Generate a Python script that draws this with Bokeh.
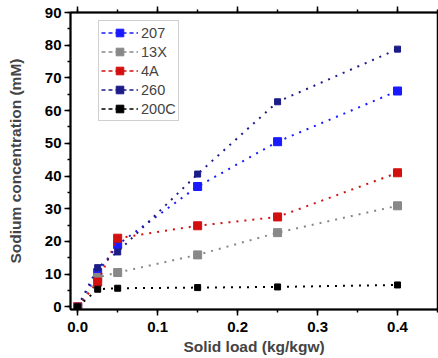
from bokeh.plotting import figure
from bokeh.models import (LinearAxis, SingleIntervalTicker, Range1d, Legend, LegendItem,
                          NumeralTickFormatter)
from bokeh.embed import file_html
from bokeh.resources import INLINE

# Solid load (kg/kgw)
load = [0.0, 0.025, 0.05, 0.15, 0.25, 0.4]

# Sodium concentration (mM) for each zeolite
na_207 = [0.0, 10.5, 19.0, 36.8, 50.5, 66.0]
na_13x = [0.0, 9.0, 10.5, 15.9, 22.7, 30.9]
na_4a = [0.0, 7.6, 21.0, 24.8, 27.5, 41.0]
na_260 = [0.0, 12.0, 16.8, 40.6, 62.7, 78.8]
na_200c = [0.0, 5.4, 5.7, 5.9, 6.1, 6.7]

# name, values, colour, marker size in plot, marker size in legend
series = [
    ("207", na_207, "#1a1aff", 8, 7),
    ("13X", na_13x, "#888888", 8, 7),
    ("4A", na_4a, "#d40f0f", 8, 7),
    ("260", na_260, "#1c1c88", 6, 5),
    ("200C", na_200c, "#000000", 6, 5),
]

FONT = "Liberation Sans"
NAN = float("nan")

p = figure(width=438, height=358, output_backend="svg", toolbar_location=None,
           x_range=Range1d(-0.009, 0.45), y_range=Range1d(-0.8, 90),
           min_border_left=70, min_border_right=1, min_border_top=12,
           min_border_bottom=49, background_fill_color="white",
           border_fill_color="white")
p.grid.visible = False
p.outline_line_color = "black"
p.outline_line_width = 1.5


def style_axis(ax):
    ax.axis_line_width = 2
    ax.axis_line_color = "black"
    ax.major_tick_in = 0
    ax.major_tick_out = 6
    ax.minor_tick_in = 0
    ax.minor_tick_out = 3
    ax.major_tick_line_width = 1.5
    ax.minor_tick_line_width = 1.5
    ax.major_label_text_font = FONT
    ax.major_label_text_font_style = "bold"
    ax.major_label_text_font_size = "15px"
    ax.major_label_text_color = "black"
    ax.axis_label_text_font = FONT
    ax.axis_label_text_font_style = "bold"
    ax.axis_label_text_font_size = "15.5px"


p.xaxis.ticker = SingleIntervalTicker(interval=0.1, num_minor_ticks=2)
p.yaxis.ticker = SingleIntervalTicker(interval=10, num_minor_ticks=2)
p.xaxis.formatter = NumeralTickFormatter(format="0.0")
p.xaxis.axis_label = "Solid load (kg/kgw)"
p.yaxis.axis_label = "Sodium concentration (mM)"
style_axis(p.xaxis[0])
style_axis(p.yaxis[0])
p.xaxis.major_label_standoff = 6
p.xaxis.axis_label_standoff = 3
p.yaxis.major_label_standoff = 3
p.yaxis.axis_label_standoff = 18

# mirrored ticks along the top edge, no labels
top = LinearAxis(ticker=SingleIntervalTicker(interval=0.1, num_minor_ticks=2))
style_axis(top)
top.major_label_text_font_size = "0px"
top.major_label_text_color = None
top.major_label_standoff = 0
p.add_layout(top, "above")

items = []
for name, vals, color, size, leg_size in series:
    p.line(load, vals, line_color=color, line_width=2, line_dash="2 6")
    p.scatter(load, vals, marker="square", size=size, fill_color=color,
              line_color=color)
    # legend swatches: dashed line with a small square (NaN keeps them off the plot)
    lk = p.line([NAN], [NAN], line_color=color, line_width=1.6, line_dash="4 3")
    mk = p.scatter([NAN], [NAN], marker="square", size=leg_size, fill_color=color,
                   line_color=color)
    items.append(LegendItem(label=name, renderers=[lk, mk]))

legend = Legend(items=items, location=(28, 188), label_text_font=FONT,
                label_text_font_size="14.5px", label_height=19, glyph_height=19,
                glyph_width=37, spacing=0, padding=2, margin=0,
                border_line_color="#a0a0a0", border_line_width=1,
                label_standoff=3, background_fill_alpha=1)
p.add_layout(legend, "center")

open("out.html", "w").write(file_html(p, INLINE))
